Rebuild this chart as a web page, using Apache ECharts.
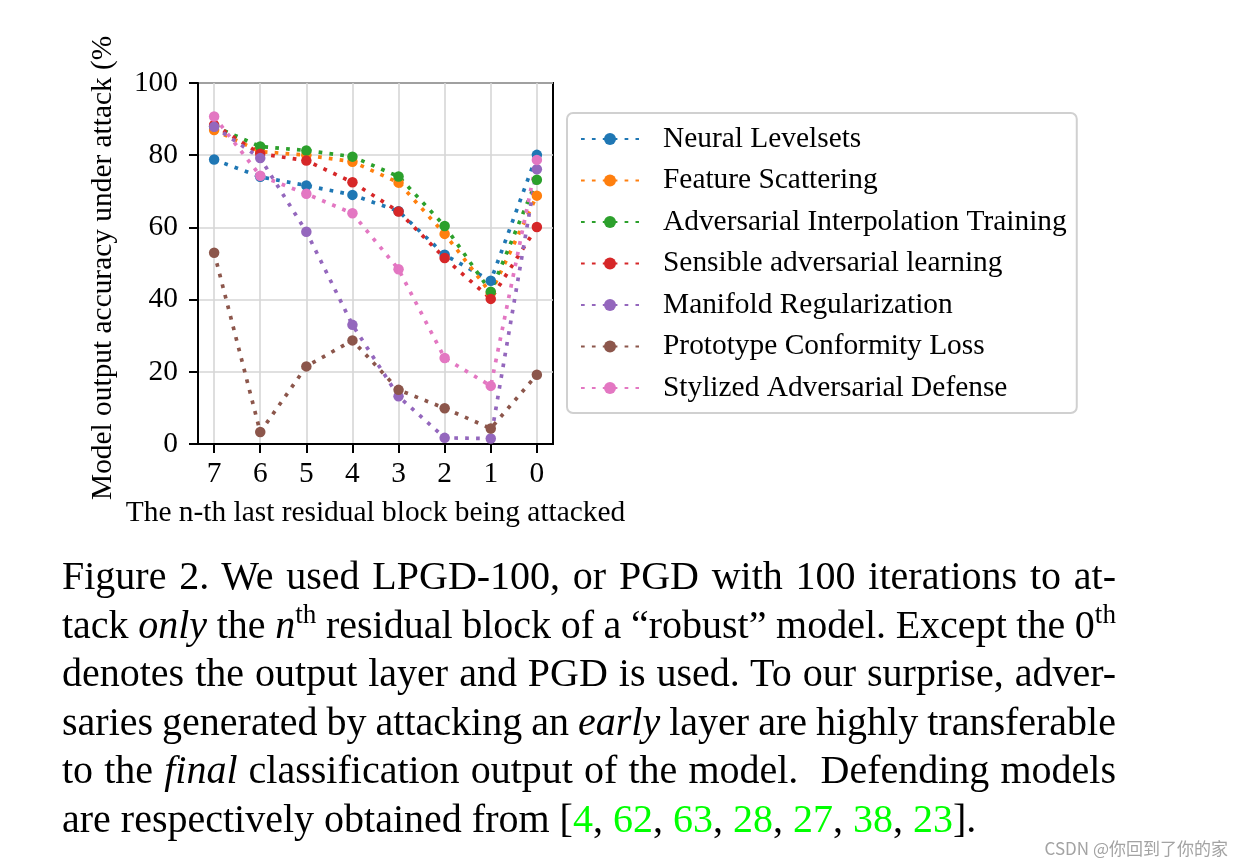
<!DOCTYPE html>
<html>
<head>
<meta charset="utf-8">
<script src="https://cdn.jsdelivr.net/npm/echarts@6/dist/echarts.min.js"></script>
<style>
  html, body { margin: 0; padding: 0; background: #fff; }
  #wrap { position: relative; width: 1244px; height: 867px; overflow: hidden; }
  #chart { position: absolute; left: 0; top: 0; width: 1244px; height: 867px; }
  #caption { position: absolute; left: 62px; top: 552px; width: 1054px;
    font-family: "Liberation Serif", "Times New Roman", serif; font-size: 40px; color: #000; }
  #caption .ln { height: 48.6px; line-height: 48.6px; white-space: nowrap; text-align: justify; text-align-last: justify; word-spacing: -3px; }
  #caption .ln.last { text-align: left; text-align-last: left; word-spacing: 0; }
  #caption sup { font-size: 0.68em; line-height: 0; vertical-align: 0.55em; }
  #caption .g { color: #00ff00; }
  #wm { position: absolute; right: 16px; top: 837px; font-family: "Noto Sans CJK SC", "Noto Sans", sans-serif;
    font-size: 17px; color: #a3a3a3; line-height: 22px; }
</style>
</head>
<body>
<div id="wrap">
  <div id="chart"></div>
  <div id="caption">
    <div class="ln">Figure 2. We used LPGD-100, or PGD with 100 iterations to at-</div>
    <div class="ln">tack <i>only</i> the <i>n</i><sup>th</sup> residual block of a “robust” model. Except the 0<sup>th</sup></div>
    <div class="ln">denotes the output layer and PGD is used. To our surprise, adver-</div>
    <div class="ln">saries generated by attacking an <i>early</i> layer are highly transferable</div>
    <div class="ln">to the <i>final</i> classification output of the model. &nbsp;Defending models</div>
    <div class="ln last">are respectively obtained from [<span class="g">4</span>, <span class="g">62</span>, <span class="g">63</span>, <span class="g">28</span>, <span class="g">27</span>, <span class="g">38</span>, <span class="g">23</span>].</div>
  </div>
  <div id="wm">CSDN @你回到了你的家</div>
</div>
<script>
// ---- data ----
var blocks = [7, 6, 5, 4, 3, 2, 1, 0];
var xTicks = [0, 1, 2, 3, 4, 5, 6, 7];
var yTicks = [0, 20, 40, 60, 80, 100];
var seriesNames = [
  'Neural Levelsets',
  'Feature Scattering',
  'Adversarial Interpolation Training',
  'Sensible adversarial learning',
  'Manifold Regularization',
  'Prototype Conformity Loss',
  'Stylized Adversarial Defense'
];
var neuralLevelsets   = [78.8, 74.0, 71.6, 69.0, 64.5, 52.4, 45.2, 80.1];
var featureScattering = [87.0, 81.0, 80.0, 78.2, 72.4, 58.2, 41.8, 68.8];
var advInterpolation  = [88.0, 82.4, 81.3, 79.6, 74.1, 60.4, 42.2, 73.2];
var sensibleAdv       = [88.4, 80.4, 78.5, 72.5, 64.4, 51.5, 40.2, 60.1];
var manifoldReg       = [87.9, 79.2, 58.8, 33.0, 13.2, 1.7, 1.5, 76.1];
var prototypeConf     = [53.0, 3.3, 21.5, 28.7, 15.0, 9.9, 4.3, 19.2];
var stylizedAdv       = [90.7, 74.3, 69.3, 63.9, 48.4, 23.8, 16.1, 78.7];
var allValues = [neuralLevelsets, featureScattering, advInterpolation, sensibleAdv, manifoldReg, prototypeConf, stylizedAdv];
var colors = ['#1f77b4', '#ff7f0e', '#2ca02c', '#d62728', '#9467bd', '#8c564b', '#e377c2'];

var FONT = '"Liberation Serif", "Times New Roman", serif';
var FS = 29.4;

var series = seriesNames.map(function (name, k) {
  return {
    name: name,
    type: 'line',
    data: blocks.map(function (b, i) { return [b, allValues[k][i]]; }),
    symbol: 'circle',
    symbolSize: 10.5,
    showSymbol: true,
    itemStyle: { color: colors[k] },
    lineStyle: { color: colors[k], width: 3.7, type: [3.7, 7.2], cap: 'butt' },
    emphasis: { disabled: true },
    z: 2
  };
});

var chart = echarts.init(document.getElementById('chart'), null, { renderer: 'canvas' });
chart.setOption({
  animation: false,
  backgroundColor: 'transparent',
  grid: { left: 198, top: 83, width: 355, height: 361, show: true, borderColor: '#000', borderWidth: 2, backgroundColor: 'transparent' },
  xAxis: {
    type: 'value', min: -0.35, max: 7.35, inverse: true, minInterval: 1, maxInterval: 1,
    name: 'The n-th last residual block being attacked',
    nameLocation: 'middle', nameGap: 55,
    nameTextStyle: { fontFamily: FONT, fontSize: FS, color: '#000' },
    axisLine: { show: true, onZero: false, lineStyle: { color: '#000', width: 2 } },
    axisTick: { show: true, length: 9, lineStyle: { color: '#000', width: 2 }, customValues: xTicks },
    axisLabel: { fontFamily: FONT, fontSize: FS, color: '#000', margin: 16, customValues: xTicks,
      formatter: function (v) { return String(v); } },
    splitLine: { show: true, lineStyle: { color: '#d6d6d6', width: 1.6 } }
  },
  yAxis: {
    type: 'value', min: 0, max: 100, interval: 20,
    axisLine: { show: true, onZero: false, lineStyle: { color: '#000', width: 2 } },
    axisTick: { show: true, length: 9, lineStyle: { color: '#000', width: 2 } },
    axisLabel: { fontFamily: FONT, fontSize: FS, color: '#000', margin: 20,
      formatter: function (v) { return yTicks.indexOf(v) >= 0 ? String(v) : ''; } },
    splitLine: { show: true, lineStyle: { color: '#d6d6d6', width: 1.6 } }
  },
  legend: {
    orient: 'vertical',
    left: 567, top: 113,
    padding: [11, 10, 10, 13],
    itemWidth: 58, itemHeight: 15, itemGap: 11.5,
    borderColor: '#d0d0d0', borderWidth: 2, borderRadius: 6, backgroundColor: '#fff',
    textStyle: { fontFamily: FONT, fontSize: FS, color: '#000', lineHeight: 30, padding: [0, 0, 0, 19] },
    data: seriesNames,
    selectedMode: false
  },
  graphic: [{
    type: 'text', x: 103, y: 500, rotation: Math.PI / 2,
    style: { text: 'Model output accuracy under attack (%', font: FS + 'px ' + FONT, fill: '#000',
      textAlign: 'left', textVerticalAlign: 'middle' }
  }],
  series: series
});
</script>
</body>
</html>
